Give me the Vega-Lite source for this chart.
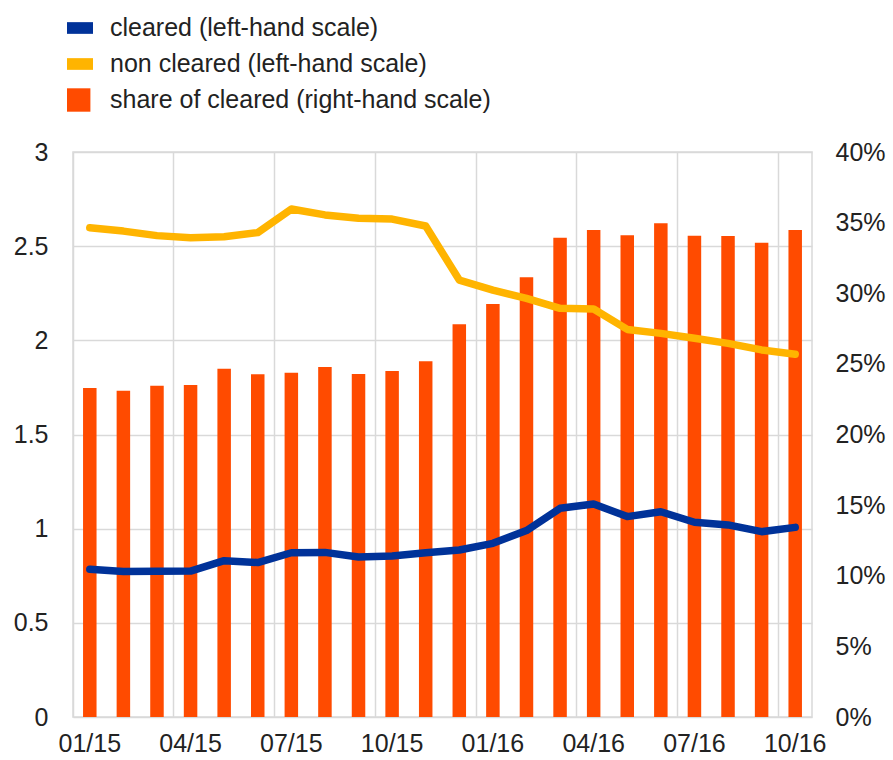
{
  "$schema": "https://vega.github.io/schema/vega-lite/v6.json",
  "autosize": "none",
  "width": 739,
  "height": 565,
  "padding": {"left": 73, "top": 152, "right": 81, "bottom": 43},
  "background": "white",
  "config": {
    "font": "Liberation Sans",
    "view": {"stroke": "#d9d9d9", "strokeWidth": 1.5},
    "axis": {"labelFontSize": 25, "labelColor": "#222222", "ticks": false, "domain": false, "gridColor": "#d9d9d9", "gridWidth": 1.5, "title": null},
    "legend": {"labelFontSize": 25, "labelColor": "#222222", "labelLimit": 0}
  },
  "data": {
    "values": [
      {"month": "01/15", "cleared": 0.784, "noncleared": 2.598, "share": 23.3},
      {"month": "02/15", "cleared": 0.772, "noncleared": 2.58, "share": 23.1},
      {"month": "03/15", "cleared": 0.774, "noncleared": 2.556, "share": 23.45},
      {"month": "04/15", "cleared": 0.775, "noncleared": 2.545, "share": 23.5},
      {"month": "05/15", "cleared": 0.83, "noncleared": 2.55, "share": 24.66},
      {"month": "06/15", "cleared": 0.82, "noncleared": 2.572, "share": 24.26},
      {"month": "07/15", "cleared": 0.872, "noncleared": 2.697, "share": 24.38},
      {"month": "08/15", "cleared": 0.874, "noncleared": 2.666, "share": 24.78},
      {"month": "09/15", "cleared": 0.85, "noncleared": 2.648, "share": 24.28},
      {"month": "10/15", "cleared": 0.855, "noncleared": 2.644, "share": 24.5},
      {"month": "11/15", "cleared": 0.872, "noncleared": 2.607, "share": 25.18},
      {"month": "12/15", "cleared": 0.887, "noncleared": 2.32, "share": 27.8},
      {"month": "01/16", "cleared": 0.922, "noncleared": 2.267, "share": 29.24},
      {"month": "02/16", "cleared": 0.99, "noncleared": 2.223, "share": 31.13},
      {"month": "03/16", "cleared": 1.108, "noncleared": 2.17, "share": 33.93},
      {"month": "04/16", "cleared": 1.131, "noncleared": 2.166, "share": 34.48},
      {"month": "05/16", "cleared": 1.064, "noncleared": 2.058, "share": 34.1},
      {"month": "06/16", "cleared": 1.09, "noncleared": 2.037, "share": 34.95},
      {"month": "07/16", "cleared": 1.034, "noncleared": 2.011, "share": 34.07},
      {"month": "08/16", "cleared": 1.02, "noncleared": 1.984, "share": 34.05},
      {"month": "09/16", "cleared": 0.984, "noncleared": 1.949, "share": 33.58},
      {"month": "10/16", "cleared": 1.007, "noncleared": 1.926, "share": 34.48}
    ]
  },
  "encoding": {
    "x": {
      "field": "month",
      "type": "ordinal",
      "sort": null,
      "scale": {"paddingInner": 0, "paddingOuter": 0},
      "axis": {
        "labelAngle": 0,
        "labelPadding": 14,
        "values": ["01/15", "04/15", "07/15", "10/15", "01/16", "04/16", "07/16", "10/16"],
        "bandPosition": 0,
        "grid": true
      }
    }
  },
  "layer": [
    {
      "mark": {"type": "bar", "size": 13.5},
      "encoding": {
        "y": {
          "field": "share",
          "type": "quantitative",
          "scale": {"domain": [0, 40], "nice": false},
          "axis": {"orient": "right", "grid": false, "values": [0, 5, 10, 15, 20, 25, 30, 35, 40], "labelExpr": "datum.value + '%'", "labelPadding": 23}
        },
        "color": {
          "datum": "share of cleared (right-hand scale)",
          "scale": {
            "domain": ["cleared (left-hand scale)", "non cleared (left-hand scale)", "share of cleared (right-hand scale)"],
            "range": ["#003299", "#FFB400", "#FF4B00"]
          },
          "legend": {
            "orient": "none",
            "legendX": -6,
            "legendY": -137,
            "title": null,
            "padding": 0,
            "symbolSize": 676,
            "labelOffset": 17,
            "labelLimit": 0,
            "rowPadding": 10,
            "symbolStrokeWidth": 0,
            "symbolOpacity": 1,
            "encode": {
              "symbols": {
                "update": {
                  "shape": {"signal": "datum.value == 'share of cleared (right-hand scale)' ? 'M-1,-0.9H0.8V0.9H-1Z' : 'M-1,-0.45H1V0.45H-1Z'"},
                  "fill": {"scale": "color", "field": "value"},
                  "strokeWidth": {"value": 0},
                  "opacity": {"value": 1}
                }
              }
            }
          }
        }
      }
    },
    {
      "layer": [
        {
          "mark": {"type": "line", "strokeWidth": 7.5, "strokeJoin": "round", "strokeCap": "round"},
          "encoding": {
            "y": {"field": "cleared", "type": "quantitative"},
            "color": {"datum": "cleared (left-hand scale)"}
          }
        },
        {
          "mark": {"type": "line", "strokeWidth": 7.5, "strokeJoin": "round", "strokeCap": "round"},
          "encoding": {
            "y": {"field": "noncleared", "type": "quantitative"},
            "color": {"datum": "non cleared (left-hand scale)"}
          }
        }
      ],
      "encoding": {
        "y": {
          "type": "quantitative",
          "scale": {"domain": [0, 3], "nice": false},
          "axis": {"orient": "left", "grid": true, "values": [0, 0.5, 1, 1.5, 2, 2.5, 3], "format": "~g", "labelPadding": 25}
        }
      }
    }
  ],
  "resolve": {"scale": {"y": "independent"}}
}
